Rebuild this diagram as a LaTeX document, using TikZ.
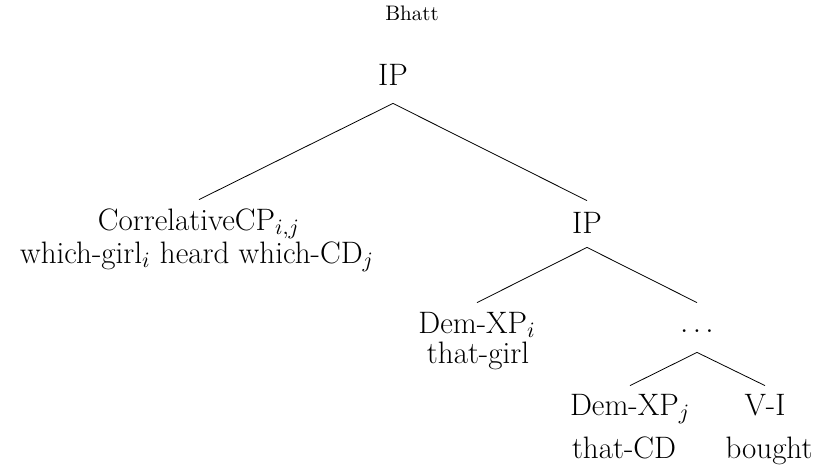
\documentclass[tikz,border=0pt]{standalone}
\begin{document}
\begin{tikzpicture}[x=0.5pt,y=-0.5pt,
  lab/.style={anchor=base,inner sep=0pt,text height=10.5pt,text depth=0pt,font=\fontsize{15.5}{18}\selectfont},
  br/.style={line width=0.4pt}]
\useasboundingbox (0,0) rectangle (817,472);
\node[anchor=base,inner sep=0pt,font=\fontsize{10.5}{12}\selectfont] (hdr) at (412,20) {Bhatt};
\node[lab] (ip1) at (393,85) {IP};
\node[lab] (cp) at (199,230) {CorrelativeCP$_{i,j}$};
\node[lab] (cpw) at (197,263) {which-girl$_i$ heard which-CD$_j$};
\node[lab] (ip2) at (587,233) {IP};
\node[lab] (dx1) at (477,333) {Dem-XP$_i$};
\node[lab] (dx1w) at (478,363) {that-girl};
\node[lab] (dots) at (697,332) {$\ldots$};
\node[lab] (dx2) at (630,415) {Dem-XP$_j$};
\node[lab] (dx2w) at (624,458) {that-CD};
\node[lab] (vi) at (765,415) {V-I};
\node[lab] (viw) at (769,458) {bought};
\draw[br] ([yshift=-9pt]ip1.south) -- ([yshift=4.5pt]cp.north);
\draw[br] ([yshift=-9pt]ip1.south) -- ([yshift=5.5pt]ip2.north);
\draw[br] ([yshift=-7pt]ip2.south) -- ([yshift=4.5pt]dx1.north);
\draw[br] ([yshift=-7pt]ip2.south) -- ([yshift=4pt]dots.north);
\draw[br] ([yshift=-10pt]dots.south) -- ([yshift=4pt]dx2.north);
\draw[br] ([yshift=-10pt]dots.south) -- ([yshift=4pt]vi.north);
\end{tikzpicture}
\end{document}
